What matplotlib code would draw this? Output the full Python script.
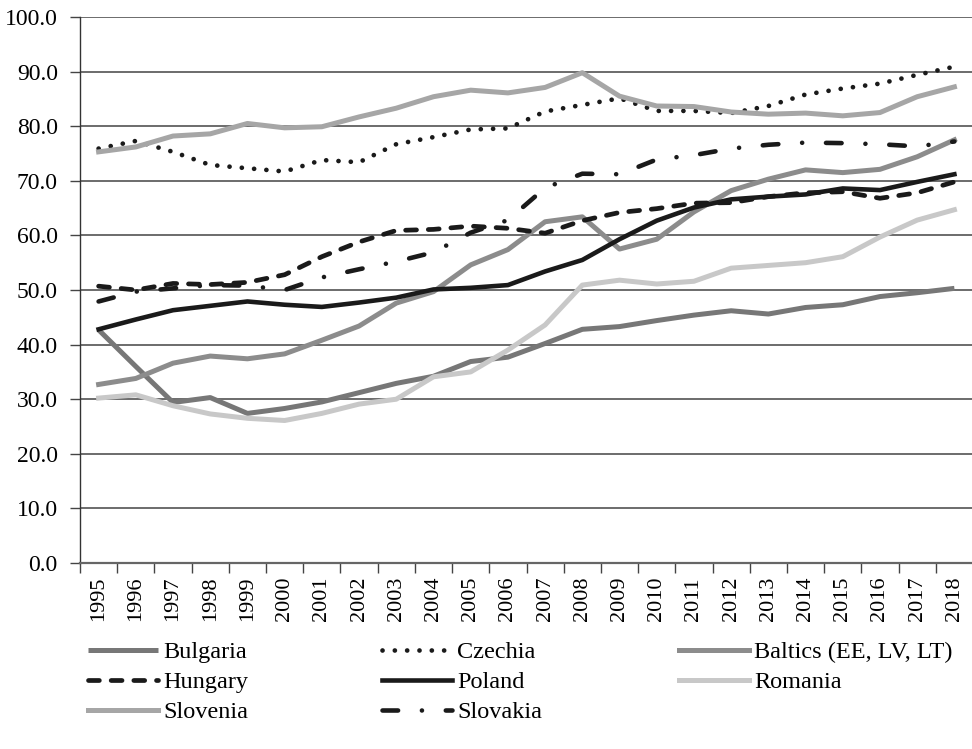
import matplotlib
matplotlib.use("Agg")
import matplotlib.pyplot as plt
from matplotlib.ticker import FixedLocator, FormatStrFormatter

plt.rcParams['font.family'] = ['Liberation Serif', 'DejaVu Serif']

years = [str(y) for y in range(1995, 2019)]

bulgaria = [42.7, 36.0, 29.4, 30.3, 27.4, 28.3, 29.5, 31.2, 32.9, 34.2, 36.9, 37.7,
            40.2, 42.8, 43.3, 44.4, 45.4, 46.2, 45.6, 46.8, 47.3, 48.8, 49.5, 50.3]
czechia = [75.9, 77.3, 75.3, 72.9, 72.3, 71.7, 73.8, 73.4, 76.7, 78.0, 79.4, 79.6,
           82.7, 83.9, 85.1, 82.8, 82.8, 82.4, 83.7, 85.8, 86.9, 87.8, 89.4, 90.9]
baltics = [32.7, 33.8, 36.6, 37.9, 37.4, 38.3, 40.8, 43.4, 47.6, 49.7, 54.6, 57.4,
           62.5, 63.4, 57.5, 59.3, 64.3, 68.2, 70.3, 72.0, 71.5, 72.1, 74.4, 77.5]
hungary = [50.7, 50.0, 51.2, 51.0, 51.4, 52.8, 56.1, 58.8, 60.9, 61.1, 61.7, 61.3,
           60.4, 62.7, 64.2, 64.9, 65.9, 66.0, 67.1, 67.8, 68.0, 66.8, 67.8, 69.8]
poland = [42.8, 44.6, 46.3, 47.1, 47.9, 47.3, 46.9, 47.7, 48.6, 50.1, 50.4, 50.9,
          53.4, 55.5, 59.3, 62.7, 65.1, 66.6, 67.1, 67.5, 68.6, 68.3, 69.8, 71.2]
romania = [30.2, 30.8, 28.8, 27.3, 26.5, 26.1, 27.4, 29.1, 30.0, 34.1, 35.0, 39.0,
           43.6, 50.9, 51.8, 51.1, 51.6, 54.0, 54.5, 55.0, 56.1, 59.7, 62.8, 64.7]
slovenia = [75.3, 76.2, 78.2, 78.6, 80.5, 79.7, 79.9, 81.7, 83.3, 85.4, 86.6, 86.1,
            87.1, 89.8, 85.5, 83.7, 83.6, 82.6, 82.2, 82.4, 81.9, 82.5, 85.4, 87.2]
slovakia = [47.9, 49.7, 50.3, 50.9, 50.8, 50.0, 52.3, 53.8, 55.2, 56.9, 60.5, 62.8,
            68.7, 71.3, 71.2, 73.9, 74.7, 75.9, 76.6, 77.0, 76.9, 76.7, 76.3, 77.2]

W, H = 972, 749
fig = plt.figure(figsize=(W / 100, H / 100), dpi=100)
ax = fig.add_axes([80 / W, 1 - 563 / H, (973 - 80) / W, (563 - 17) / H])

x = list(range(len(years)))
BLACK = '#1a1a1a'

series = [
    ('Bulgaria', bulgaria, dict(color='#777777', lw=3.6, solid_capstyle='butt')),
    ('Czechia', czechia, dict(color=BLACK, lw=3.4, dashes=(0.01, 2.6), dash_capstyle='round')),
    ('Baltics (EE, LV, LT)', baltics, dict(color='#8c8c8c', lw=3.6)),
    ('Hungary', hungary, dict(color=BLACK, lw=3.4, dashes=(2.3, 2.5), dash_capstyle='round')),
    ('Poland', poland, dict(color=BLACK, lw=3.3)),
    ('Romania', romania, dict(color='#c8c8c8', lw=3.6)),
    ('Slovenia', slovenia, dict(color='#a6a6a6', lw=3.6)),
    ('Slovakia', slovakia, dict(color=BLACK, lw=3.3, dashes=(3.4, 5.2, 0.01, 5.2), dash_capstyle='round')),
]

handles = {}
for name, vals, st in series:
    ln, = ax.plot(x, vals, label=name, zorder=3, solid_joinstyle='round', **st)
    handles[name] = ln

ax.set_xlim(-0.5, len(years) - 0.5)
ax.set_ylim(0, 100)
ax.set_yticks([i * 10 for i in range(11)])
ax.yaxis.set_major_formatter(FormatStrFormatter('%.1f'))
ax.yaxis.grid(True, color='#444444', lw=1.1, zorder=1)
ax.tick_params(axis='y', length=7, width=1.0, color='#444444', pad=9, labelsize=17)

ax.set_xticks(x)
ax.set_xticklabels(years, rotation=90, fontsize=16)
ax.xaxis.set_minor_locator(FixedLocator([i - 0.5 for i in range(len(years) + 1)]))
ax.tick_params(axis='x', which='major', length=0, pad=10)
ax.tick_params(axis='x', which='minor', length=7, width=1.0, color='#444444')

for s in ['top', 'right']:
    ax.spines[s].set_visible(False)
ax.spines['left'].set_color('#333333')
ax.spines['left'].set_linewidth(1.0)
ax.spines['bottom'].set_color('#666666')
ax.spines['bottom'].set_linewidth(1.6)

cols = [
    (88, ['Bulgaria', 'Hungary', 'Slovenia']),
    (382, ['Czechia', 'Poland', 'Slovakia']),
    (679, ['Baltics (EE, LV, LT)', 'Romania']),
]
for xpx, names in cols:
    fig.legend([handles[n] for n in names], names, loc='upper left',
               bbox_to_anchor=(xpx / W, 1 - 641 / H), frameon=False,
               fontsize=17.5, handlelength=2.9, handletextpad=0.2,
               borderpad=0, borderaxespad=0, labelspacing=0.33)

fig.savefig('out.png', dpi=100)
